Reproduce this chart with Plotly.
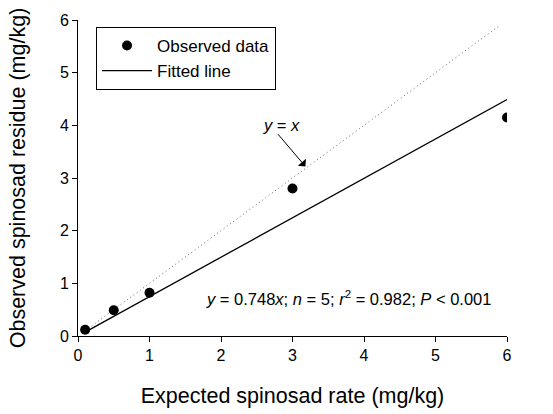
import plotly.graph_objects as go

expected = [0.1, 0.5, 1, 3, 6]
observed = [0.12, 0.49, 0.82, 2.8, 4.15]
slope = 0.748
fit_x = [0.1, 6]
fit_y = [slope * v for v in fit_x]
ident_x = [0.1, 5.9]
ident_y = [0.1, 5.9]
x_ticks = [0, 1, 2, 3, 4, 5, 6]
y_ticks = [0, 1, 2, 3, 4, 5, 6]

FONT = "Liberation Sans, Arial, sans-serif"

fig = go.Figure()
fig.add_trace(go.Scatter(x=ident_x, y=ident_y, mode="lines",
                         line=dict(color="#666", width=1, dash="1px,3px"),
                         showlegend=False, hoverinfo="skip"))
fig.add_trace(go.Scatter(x=expected, y=observed, mode="markers", name="Observed data",
                         marker=dict(color="black", size=10)))
fig.add_trace(go.Scatter(x=fit_x, y=fit_y, mode="lines", name="Fitted line",
                         line=dict(color="black", width=1.3)))

fig.add_annotation(x=3.18, y=3.22, ax=2.78, ay=3.86, xref="x", yref="y", axref="x", ayref="y",
                   text="", showarrow=True, arrowhead=1, arrowsize=1.8, arrowwidth=1,
                   arrowcolor="black")
fig.add_annotation(x=2.85, y=4.0, xref="x", yref="y", text="<i>y</i> = <i>x</i>",
                   showarrow=False, font=dict(size=16.5, family=FONT, color="black"))
fig.add_annotation(x=3.78, y=0.72, xref="x", yref="y",
                   text="<i>y</i> = 0.748<i>x</i>; <i>n</i> = 5; <i>r</i><sup>2</sup> = 0.982; <i>P</i> < 0.001",
                   showarrow=False, font=dict(size=16.5, family=FONT, color="black"))

fig.update_layout(
    width=553, height=414,
    margin=dict(l=78, r=46, t=20, b=78, autoexpand=False),
    paper_bgcolor="white", plot_bgcolor="white",
    font=dict(family=FONT, size=16, color="black"),
    legend=dict(x=0.042, y=0.978, xanchor="left", yanchor="top",
                bordercolor="black", borderwidth=1, bgcolor="white", itemwidth=50,
                font=dict(size=17, family=FONT), tracegroupgap=0),
    xaxis=dict(range=[0, 6], tickvals=x_ticks, showline=True, linecolor="black", linewidth=1,
               ticks="outside", ticklen=5, tickcolor="black", showgrid=False, zeroline=False,
               tickfont=dict(size=16), automargin=False,
               title=dict(text="Expected spinosad rate (mg/kg)", font=dict(size=21.5), standoff=24)),
    yaxis=dict(range=[0, 6], tickvals=y_ticks, showline=True, linecolor="black", linewidth=1,
               ticks="outside", ticklen=5, tickcolor="black", showgrid=False, zeroline=False,
               tickfont=dict(size=16), automargin=False,
               title=dict(text="Observed spinosad residue (mg/kg)", font=dict(size=21.5), standoff=28)),
)

fig.write_html("out.html", config={"displayModeBar": False},
               post_script="document.body.style.margin='0';document.body.style.overflow='hidden';")
